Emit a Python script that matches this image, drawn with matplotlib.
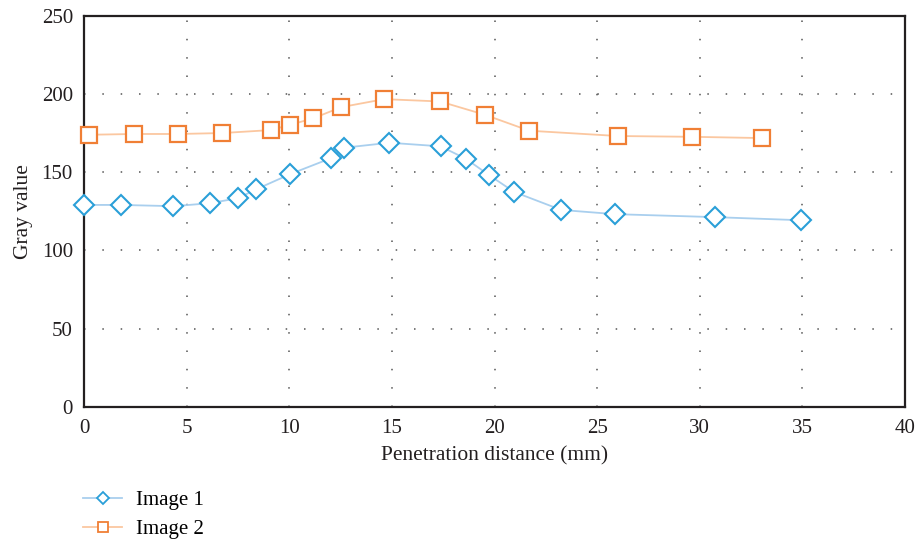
import matplotlib
matplotlib.use('Agg')
import matplotlib.pyplot as plt
from matplotlib.lines import Line2D

plt.rcParams['font.family'] = ['Liberation Serif', 'DejaVu Serif']

# data
x_img1 = [0.0, 1.82, 4.36, 6.13, 7.5, 8.39, 10.06, 12.01, 12.67, 14.88, 17.37,
          18.61, 19.72, 20.96, 23.25, 25.87, 30.73, 34.94]
y_img1 = [129.1, 129.1, 128.3, 130.2, 133.4, 139.1, 148.9, 158.9, 165.7, 168.9, 166.6,
          158.6, 148.3, 137.4, 125.9, 123.2, 121.3, 119.3]

x_img2 = [0.23, 2.44, 4.59, 6.73, 9.09, 10.05, 11.16, 12.54, 14.63, 17.35,
          19.53, 21.69, 26.01, 29.6, 33.01]
y_img2 = [174.0, 174.5, 174.5, 175.1, 177.0, 180.4, 184.5, 191.7, 196.8, 195.3,
          186.8, 176.6, 173.2, 172.7, 171.9]

labels = ['Image 1', 'Image 2']

blue_line, blue_mark = '#a9cfee', '#2a9fd8'
orange_line, orange_mark = '#fbc7a0', '#f07f35'
txt = '#231f20'

fig = plt.figure(figsize=(9.15, 5.39), dpi=100)
ax = fig.add_axes([0.0918, 0.2455, 0.8973, 0.7248])

ax.plot(x_img1, y_img1, color=blue_line, lw=1.3, zorder=2)
ax.plot(x_img1, y_img1, ls='none', marker='D', ms=9.8, mfc='white',
        mec=blue_mark, mew=1.5, zorder=3, clip_on=False)
ax.plot(x_img2, y_img2, color=orange_line, lw=1.3, zorder=2)
ax.plot(x_img2, y_img2, ls='none', marker='s', ms=11.5, mfc='white',
        mec=orange_mark, mew=1.6, zorder=3, clip_on=False)

ax.set_xlim(0, 40)
ax.set_ylim(0, 250)
ax.set_xticks(range(0, 41, 5))
ax.set_yticks(range(0, 251, 50))
ax.tick_params(length=0, labelsize=15, colors=txt)
ax.tick_params(axis='x', pad=9)
ax.tick_params(axis='y', pad=8)
ax.grid(True, color='#555555', ls=(0, (1, 11)), lw=1.1)
for s in ax.spines.values():
    s.set_linewidth(1.6)
    s.set_color(txt)

ax.set_xlabel('Penetration distance (mm)', fontsize=15.5, color=txt, labelpad=6)
ax.set_ylabel('Gray value', fontsize=15.5, color=txt, labelpad=6)

handles = [
    Line2D([], [], color=blue_line, lw=1.3, marker='D', ms=6, mfc='white',
           mec=blue_mark, mew=1.3),
    Line2D([], [], color=orange_line, lw=1.3, marker='s', ms=7.5, mfc='white',
           mec=orange_mark, mew=1.3),
]
fig.legend(handles, labels, loc='upper left', bbox_to_anchor=(0.091, 0.09),
           frameon=False, fontsize=15, handlelength=1.85, handletextpad=0.7,
           labelspacing=0.45, borderaxespad=0, borderpad=0)

fig.savefig('out.png', dpi=100)
